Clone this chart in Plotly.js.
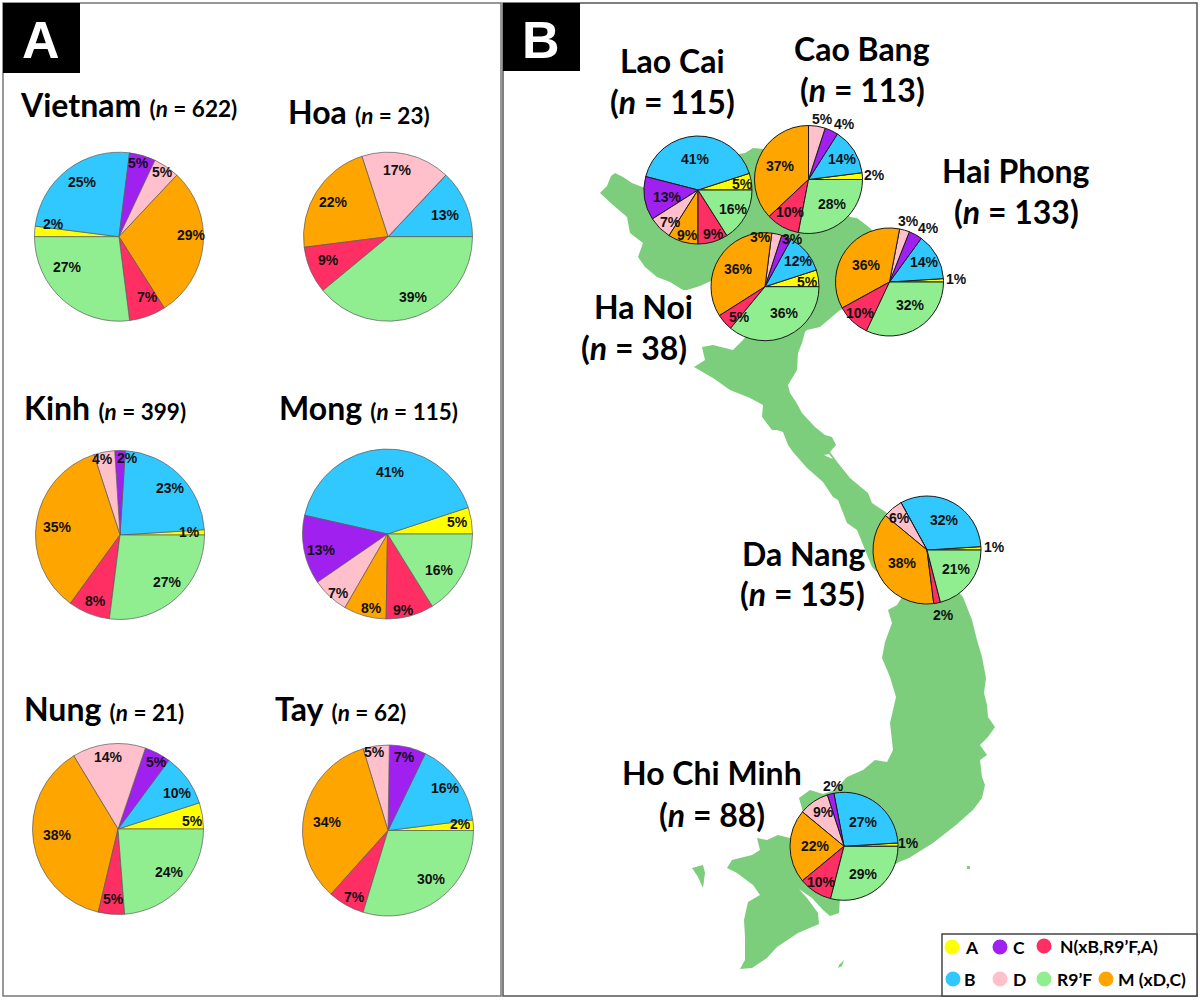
<!DOCTYPE html>
<html>
<head>
<meta charset="utf-8">
<script src="https://cdn.plot.ly/plotly-3.0.1.min.js"></script>
<style>html,body{margin:0;padding:0;background:#fff}</style>
</head>
<body>
<div id="chart" style="width:1200px;height:1000px"></div>
<script>
// Haplogroups, in drawing order
const haplogroups = ["A","B","C","D","M (xD,C)","N(xB,R9’F,A)","R9’F"];
const colors = ["#FFFF00","#30C8FF","#A020F0","#FFC0CB","#FFA500","#FF2E63","#90EE90"];
const mapGreen = "#7CCD7C";

// Percentages per group (A,B,C,D,M,N,R9'F)
const vietnam  = [2,25,5,5,29,7,27];
const hoa      = [0,13,0,17,22,9,39];
const kinh     = [1,23,2,4,35,8,27];
const mong     = [5,41,13,7,8,9,16];
const nung     = [5,10,5,14,38,5,24];
const tay      = [2,16,7,5,34,7,30];
const laoCai   = [5,41,13,7,9,9,16];
const caoBang  = [2,14,4,5,37,10,28];
const haNoi    = [5,12,3,3,36,5,36];
const haiPhong = [1,14,4,3,36,10,32];
const daNang   = [1,32,0,6,38,2,21];
const hoChiMinh= [1,27,2,9,22,10,29];

// Pie placement: centre x, centre y, radius (page pixels)
const pies = [
 {v:vietnam,  c:[119,236.7,84.5], start:270, dir:"clockwise", p:"A", t:[[53,224],[82,182],[138,163],[162,172],[191,235],[147,297],[67,267]]},
 {v:hoa,      c:[388,236.7,84.5], start:90, dir:"counterclockwise", p:"A", t:[null,[445,215],null,[397,170],[333,202],[328,260],[414,297]]},
 {v:kinh,     c:[120,535,84.5], start:90, dir:"counterclockwise", p:"A", t:[[189,532],[171,488],[127,458],[102,459],[57,527],[95,601],[167,582]]},
 {v:mong,     c:[387.5,534,85], start:90, dir:"counterclockwise", p:"A", t:[[457,522],[390,472],[321,550],[338,593],[371,608],[403,610],[440,570]]},
 {v:nung,     c:[118,829,85.5], start:90, dir:"counterclockwise", p:"A", t:[[192,821],[177,793],[156,762],[108,757],[57,835],[113,899],[169,872]]},
 {v:tay,      c:[388,830.5,85.5], start:90, dir:"counterclockwise", p:"A", t:[[460,824],[445,788],[404,757],[374,752],[327,822],[354,897],[431,879]]},
 {v:laoCai,   c:[698,190,54], start:90, dir:"counterclockwise", p:"B", t:[[742,184],[695,159],[667,197],[670,222],[687,235],[713,234],[733,209]]},
 {v:caoBang,  c:[808.5,179.5,54], start:90, dir:"counterclockwise", p:"B", t:[[874,175],[842,159],[844,124],[822,119],[780,166],[790,212],[832,204]]},
 {v:haNoi,    c:[765,286.7,54], start:90, dir:"counterclockwise", p:"B", t:[[807,282],[798,261],[792,239],[760,237],[738,269],[739,317],[784,313]]},
 {v:haiPhong, c:[889.5,282,54], start:90, dir:"counterclockwise", p:"B", t:[[956,279],[924,262],[928,228],[908,221],[866,265],[860,313],[910,305]]},
 {v:daNang,   c:[927,550,54], start:90, dir:"counterclockwise", p:"B", t:[[994,547],[944,520],null,[899,518],[902,563],[943,615],[956,569]]},
 {v:hoChiMinh,c:[844,846.3,54], start:90, dir:"counterclockwise", p:"B", t:[[909,843],[863,822],[834,786],[823,812],[815,846],[821,882],[863,874]]}
];

// Panel A titles: name, n, left x, middle y
const titlesA = [
 ["Vietnam","622",19,105],["Hoa","23",287,112],
 ["Kinh","399",23,408],["Mong","115",278,408],
 ["Nung","21",23,708],["Tay","62",274,708]
];
// Panel B titles: name, n, centre x/y of each line
const titlesB = [
 ["Lao Cai","115",672,60,672,102],["Cao Bang","113",862,48,862,90],
 ["Hai Phong","133",1016,170,1016,212],["Ha Noi","38",643,306,634,347],
 ["Da Nang","135",803,553,802,593],["Ho Chi Minh","88",712,772,712,814]
];
// Legend: label, colour index, dot x/y, text x
const legendItems = [
 ["A",0,952,947,964],["C",2,1000,947,1012],["N(xB,R9’F,A)",5,1044,946,1059],
 ["B",1,953,979,963],["D",3,1000,979,1012],["R9’F",6,1044,979,1056],["M (xD,C)",4,1106,979,1117]
];

// Outline of the country (page pixels)
const mapOutline = [
 [600,193],[607,186],[611,176],[615,173],[623,177],[632,183],[650,190],[700,160],[745,153],[753,148],[775,150],[810,180],
 [835,205],[850,217],[857,218],[870,228],[880,240],[880,300],[860,305],[840,310],[820,327],[807,330],[805,332],[802,343],
 [798,353],[797,370],[788,385],[790,393],[796,402],[802,413],[815,427],[825,435],[832,437],[836,445],[830,452],[838,463],
 [850,478],[868,493],[872,503],[887,513],[920,550],[963,597],[972,620],[977,640],[982,657],[986,678],[984,693],[987,705],
 [988,717],[995,727],[988,737],[980,745],[987,755],[980,760],[982,777],[985,785],[982,798],[973,810],[956,825],[933,843],
 [909,858],[899,862],[870,880],[840,898],[839,913],[830,916],[823,910],[812,898],[799,889],[807,898],[818,913],[819,924],
 [798,933],[777,947],[767,958],[752,968],[740,969],[745,960],[745,937],[744,920],[748,902],[760,895],[753,885],[737,873],
 [727,868],[732,860],[752,855],[760,850],[757,838],[767,840],[778,835],[790,838],[810,825],[803,812],[799,798],[810,790],
 [823,794],[835,790],[847,777],[863,770],[875,760],[887,762],[893,750],[890,723],[896,697],[890,677],[882,658],[885,642],
 [892,623],[888,610],[897,605],[902,597],[880,575],[872,567],[857,530],[847,523],[838,500],[833,497],[823,482],[807,468],
 [793,452],[788,445],[783,432],[777,430],[772,430],[762,417],[763,405],[750,398],[730,390],[713,378],[694,367],[705,360],
 [702,347],[713,345],[733,350],[743,340],[760,320],[730,280],[713,280],[700,286],[687,290],[683,290],[670,282],[657,277],
 [645,267],[638,257],[643,243],[630,233],[627,217],[613,205]
];
const mapIslands = [
 [[692,868],[703,865],[705,873],[703,888],[698,877]],
 [[839,965],[844,960],[842,966],[838,968]],
 [[967,866],[970,866],[970,869],[967,869]]
];
const mapInlet = [[824,455],[829,454],[833,459],[828,457]];

const W = 1200, H = 1000;
const fx = x => x / W, fy = y => 1 - y / H;
const pathOf = pts => pts.map((p,i)=>(i?"L":"M")+fx(p[0]).toFixed(5)+","+fy(p[1]).toFixed(5)).join(" ")+" Z";
const rect = (x0,y0,x1,y1,o) => Object.assign({type:"rect",xref:"paper",yref:"paper",x0:fx(x0),x1:fx(x1),y0:fy(y0),y1:fy(y1),layer:"below"},o);

// Plotly's counterclockwise pies end the first slice at `rotation`; shift so it starts at d.start
const rotationOf = d => {
  if (d.dir === "clockwise") return d.start;
  const total = d.v.reduce((a,b)=>a+b,0);
  return d.start - 360*d.v[0]/total;
};

const traces = pies.map(d => ({
  type:"pie", values:d.v, labels:haplogroups, sort:false, direction:d.dir, rotation:rotationOf(d),
  textinfo:"none", hoverinfo:"label+value", showlegend:false,
  marker:{colors:colors, line:{color:d.p==="A"?"#5a5a5a":"#1a1a1a", width:d.p==="A"?0.7:1}},
  domain:{x:[fx(d.c[0]-d.c[2]),fx(d.c[0]+d.c[2])], y:[fy(d.c[1]+d.c[2]),fy(d.c[1]-d.c[2])]}
}));

const shapes = [
  rect(3,3,501,996,{line:{color:"#777",width:1.5},fillcolor:"#fff"}),
  rect(503,3,1197,996,{line:{color:"#555",width:1.5},fillcolor:"#fff"}),
  {type:"path",xref:"paper",yref:"paper",path:pathOf(mapOutline),fillcolor:mapGreen,line:{width:0},layer:"below"}
];
mapIslands.forEach(p=>shapes.push({type:"path",xref:"paper",yref:"paper",path:pathOf(p),fillcolor:mapGreen,line:{width:0},layer:"below"}));
shapes.push({type:"path",xref:"paper",yref:"paper",path:pathOf(mapInlet),fillcolor:"#fff",line:{width:0},layer:"below"});
shapes.push(rect(3,3,80,73,{line:{width:0},fillcolor:"#000"}));
shapes.push(rect(503,3,580,71,{line:{width:0},fillcolor:"#000"}));
shapes.push(rect(942,934,1197,996,{line:{color:"#444",width:1.5},fillcolor:"#fff"}));
legendItems.forEach(l=>{
  const r=7.5;
  shapes.push({type:"circle",xref:"paper",yref:"paper",x0:fx(l[2]-r),x1:fx(l[2]+r),y0:fy(l[3]+r),y1:fy(l[3]-r),fillcolor:colors[l[1]],line:{width:0},layer:"below"});
});

const ann = [];
const text = (s,x,y,size,family,anchor,color) => ann.push({
  text:s,xref:"paper",yref:"paper",x:fx(x),y:fy(y),xanchor:anchor||"center",yanchor:"middle",
  showarrow:false,borderpad:0,font:{size:size,family:family,color:color||"#000"}
});
const LATO = "Lato, sans-serif", ARIAL = "Liberation Sans, Arial, sans-serif";

pies.forEach(d => d.v.forEach((val,i) => {
  if (d.t[i]) text("<b>"+val+"%</b>", d.t[i][0], d.t[i][1], 14, ARIAL, "center", "#111");
}));
titlesA.forEach(t => text(
  "<b>"+t[0]+"</b> <span style=\"font-size:22.5px\"><b>(<i>n</i> = "+t[1]+")</b></span>", t[2], t[3], 32, LATO, "left"));
titlesB.forEach(t => {
  text("<b>"+t[0]+"</b>", t[2], t[3], 32, LATO);
  text("<b>(<i>n</i> = "+t[1]+")</b>", t[4], t[5], 32, LATO);
});
legendItems.forEach(l => text("<b>"+l[0]+"</b>", l[4], l[3], 17.5, LATO, "left"));
text("<b>A</b>", 41, 40, 52, ARIAL, "center", "#fff");
text("<b>B</b>", 541, 40, 52, ARIAL, "center", "#fff");

Plotly.newPlot("chart", traces, {
  width:W, height:H, margin:{l:0,r:0,t:0,b:0,pad:0},
  paper_bgcolor:"#fff", plot_bgcolor:"#fff", showlegend:false,
  shapes:shapes, annotations:ann
}, {displayModeBar:false, staticPlot:true});
</script>
</body>
</html>
